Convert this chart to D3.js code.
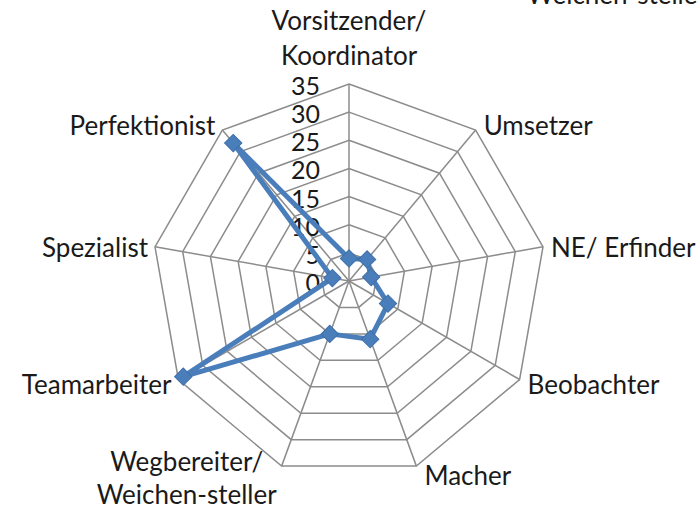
<!DOCTYPE html>
<html>
<head>
<meta charset="utf-8">
<script src="https://cdn.jsdelivr.net/npm/d3@7"></script>
<style>
  html, body { margin: 0; padding: 0; background: #fff; }
  svg { display: block; }
  text { font-family: Lato, "Open Sans", sans-serif; fill: #1a1a1a; }
</style>
</head>
<body>
<svg id="chart" width="697" height="505"></svg>
<script>
// ---- data ----
const categories = [
  ["Vorsitzender/", "Koordinator"],
  ["Umsetzer"],
  ["NE/ Erfinder"],
  ["Beobachter"],
  ["Macher"],
  ["Wegbereiter/", "Weichen-steller"],
  ["Teamarbeiter"],
  ["Spezialist"],
  ["Perfektionist"]
];
const values = [4, 5, 4, 8, 11, 10, 34, 3, 32];
const tickValues = [0, 5, 10, 15, 20, 25, 30, 35];
const strayLabel = "Weichen-steller";

// ---- layout ----
const svg = d3.select("#chart");
const cx = 349, cy = 281, R = 197;
const fontSize = 26;
const n = categories.length;
const angle = d3.scaleLinear().domain([0, n]).range([0, 2 * Math.PI]);
const r = d3.scaleLinear().domain([0, 35]).range([0, R]);
const pt = (i, v) => [cx + r(v) * Math.sin(angle(i)), cy - r(v) * Math.cos(angle(i))];

const grid = svg.append("g").attr("fill", "none").attr("stroke", "#8c8c8c").attr("stroke-width", 1.5);
// rings
tickValues.slice(1).forEach(t => {
  grid.append("path")
    .attr("d", d3.line()(d3.range(n).map(i => pt(i, t))) + "Z");
});
// spokes
d3.range(n).forEach(i => {
  const p = pt(i, 35);
  grid.append("line").attr("x1", cx).attr("y1", cy).attr("x2", p[0]).attr("y2", p[1]);
});

// tick labels
svg.append("g").selectAll("text").data(tickValues).join("text")
  .attr("x", cx - 29)
  .attr("y", d => cy - r(d) + 1)
  .attr("text-anchor", "end")
  .attr("dominant-baseline", "central")
  .attr("font-size", 25)
  .text(d => d);

// series
const seriesColor = "#4a7ebb";
svg.append("path")
  .attr("d", d3.line()(values.map((v, i) => pt(i, v))) + "Z")
  .attr("fill", "none")
  .attr("stroke", seriesColor)
  .attr("stroke-width", 5)
  .attr("stroke-linejoin", "round");

const sym = d3.symbol().type(d3.symbolSquare).size(150);
svg.append("g").selectAll("path").data(values).join("path")
  .attr("d", sym)
  .attr("transform", (v, i) => { const p = pt(i, v); return `translate(${p[0]},${p[1]}) rotate(45)`; })
  .attr("fill", seriesColor)
  .attr("stroke", "#3f6fa8")
  .attr("stroke-width", 1);

// category labels
const lh = 35;
const lab = svg.append("g").attr("font-size", fontSize);
categories.forEach((lines, i) => {
  const a = angle(i);
  const s = Math.sin(a), c = Math.cos(a);
  const v = pt(i, 35);
  if (i === 0) {
    lines.forEach((t, k) => {
      lab.append("text").attr("x", v[0]).attr("y", v[1] - 54 + (k - lines.length + 1) * lh + lh)
        .attr("text-anchor", "middle").text(t);
    });
  } else if (lines.length > 1) {
    const g = lab.append("g");
    const ts = lines.map((t, k) => g.append("text").attr("y", v[1] - 5 + k * 33)
      .attr("dominant-baseline", "central").attr("text-anchor", "middle").text(t));
    const w = d3.max(ts, t => t.node().getComputedTextLength());
    ts.forEach(t => t.attr("x", v[0] - 5 - w / 2));
  } else {
    const dx = s > 0 ? 8 : -7;
    const dy = c > 0.5 ? -5 : (c < -0.8 ? 9 : (c < -0.3 ? 4 : 0));
    lab.append("text")
      .attr("x", v[0] + dx).attr("y", v[1] + dy)
      .attr("dominant-baseline", "central")
      .attr("text-anchor", s > 0 ? "start" : "end")
      .text(lines[0]);
  }
});

// stray clipped label at top edge
svg.append("text").attr("x", 527).attr("y", 4).attr("font-size", fontSize).text(strayLabel);
</script>
</body>
</html>
